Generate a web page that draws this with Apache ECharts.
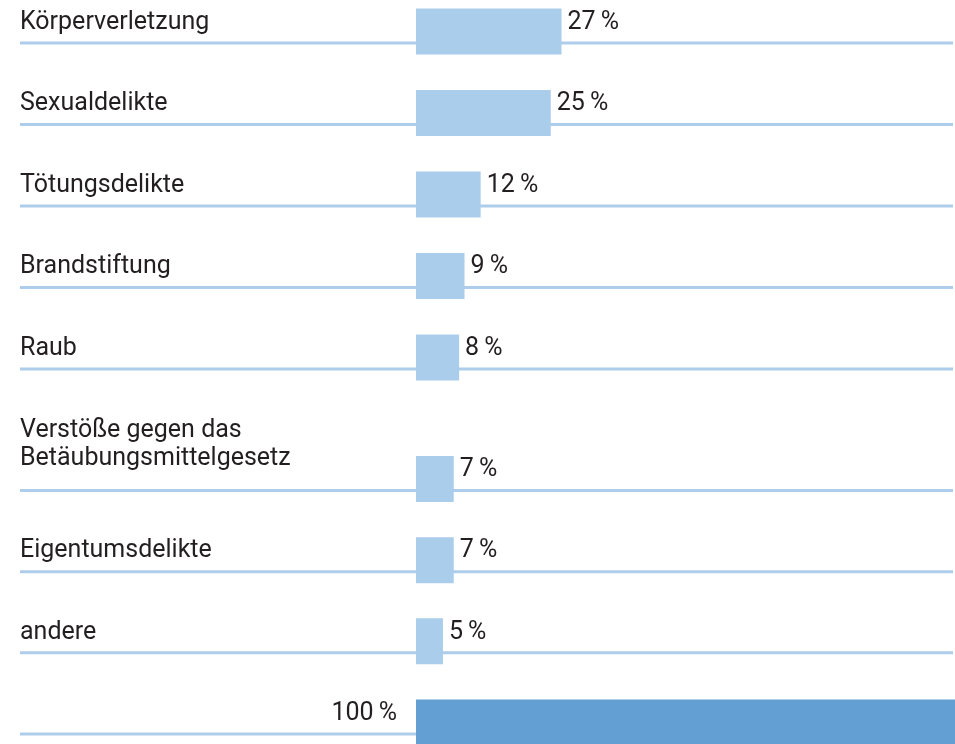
<!DOCTYPE html>
<html>
<head>
<meta charset="utf-8">
<script src="https://cdn.jsdelivr.net/npm/echarts@6/dist/echarts.min.js"></script>
<style>
  html, body { margin: 0; padding: 0; background: #fff; }
  #chart { width: 955px; height: 744px; }
</style>
</head>
<body>
<div id="chart"></div>
<script>
// Delikte, Anteil in Prozent
var upperNames = ['Körperverletzung', 'Sexualdelikte', 'Tötungsdelikte', 'Brandstiftung', 'Raub'];
var upperShares = [27, 25, 12, 9, 8];
var lowerNames = ['Verstöße gegen das\nBetäubungsmittelgesetz', 'Eigentumsdelikte', 'andere', ''];
var lowerShares = [7, 7, 5];
var total = 100;

var font = 'Roboto, "Liberation Sans", sans-serif';
var fontSize = 25;
var textColor = '#231f20';
var lightBlue = '#abcdec';
var darkBlue = '#649fd4';
var ruleColor = '#aecdeb';

var chart = echarts.init(document.getElementById('chart'));

function pct(p) {
  return p.value + '\u2009%';
}

// rule line under each row, a bit below the bar's centre
function ruleItem(params, api) {
  var p = api.coord([0, api.value(1)]);
  var y = p[1] + 11.5;
  return {
    type: 'line',
    shape: { x1: 20, y1: y, x2: api.getWidth() - 2, y2: y },
    style: { stroke: ruleColor, lineWidth: 3 }
  };
}

function rows(names) {
  return names.map(function (n, i) { return [0, i]; });
}

function labelText(v) {
  if (v.indexOf('\n') >= 0) {
    return v.split('\n').map(function (l) { return '{a|' + l + '}'; }).join('\n') + '\n{s| }';
  }
  return '{b|' + v + '}';
}

var tokenStyle = { fontSize: fontSize, fontFamily: font, color: textColor };

function yAxisFor(names, gridIndex) {
  return {
    type: 'category',
    gridIndex: gridIndex,
    inverse: true,
    boundaryGap: false,
    data: names,
    axisLine: { show: false },
    axisTick: { show: false },
    splitLine: { show: false },
    axisLabel: {
      interval: 0,
      align: 'left',
      verticalAlign: 'bottom',
      margin: 396,
      fontSize: fontSize,
      fontFamily: font,
      color: textColor,
      formatter: labelText,
      rich: {
        a: Object.assign({ lineHeight: 28 }, tokenStyle),
        b: Object.assign({ lineHeight: 18 }, tokenStyle),
        s: Object.assign({ lineHeight: 6 }, tokenStyle, { fontSize: 4 })
      }
    }
  };
}

var barLabel = {
  show: true,
  position: 'right',
  distance: 6,
  offset: [0, -9],
  fontSize: fontSize,
  fontFamily: font,
  color: textColor,
  formatter: pct
};

var option = {
  animation: false,
  grid: [
    { left: 416, right: 0, top: 31.5, bottom: 744 - 357.5, containLabel: false, outerBoundsMode: 'none' },
    { left: 416, right: 0, top: 479, bottom: 744 - 722.5, containLabel: false, outerBoundsMode: 'none' }
  ],
  xAxis: [
    { type: 'value', gridIndex: 0, min: 0, max: 100, show: false },
    { type: 'value', gridIndex: 1, min: 0, max: 100, show: false }
  ],
  yAxis: [yAxisFor(upperNames, 0), yAxisFor(lowerNames, 1)],
  series: [
    {
      type: 'custom',
      xAxisIndex: 0, yAxisIndex: 0,
      clip: false, silent: true, z: 1,
      renderItem: ruleItem,
      data: rows(upperNames)
    },
    {
      type: 'custom',
      xAxisIndex: 1, yAxisIndex: 1,
      clip: false, silent: true, z: 1,
      renderItem: ruleItem,
      data: rows(lowerNames)
    },
    {
      type: 'bar',
      xAxisIndex: 0, yAxisIndex: 0,
      z: 2,
      barWidth: 46,
      itemStyle: { color: lightBlue },
      label: barLabel,
      data: upperShares
    },
    {
      type: 'bar',
      xAxisIndex: 1, yAxisIndex: 1,
      z: 2,
      barWidth: 46,
      itemStyle: { color: lightBlue },
      label: barLabel,
      data: lowerShares.concat([{
        value: total,
        itemStyle: { color: darkBlue },
        label: { position: 'left', distance: 19 }
      }])
    }
  ]
};

option && chart.setOption(option);
</script>
</body>
</html>
